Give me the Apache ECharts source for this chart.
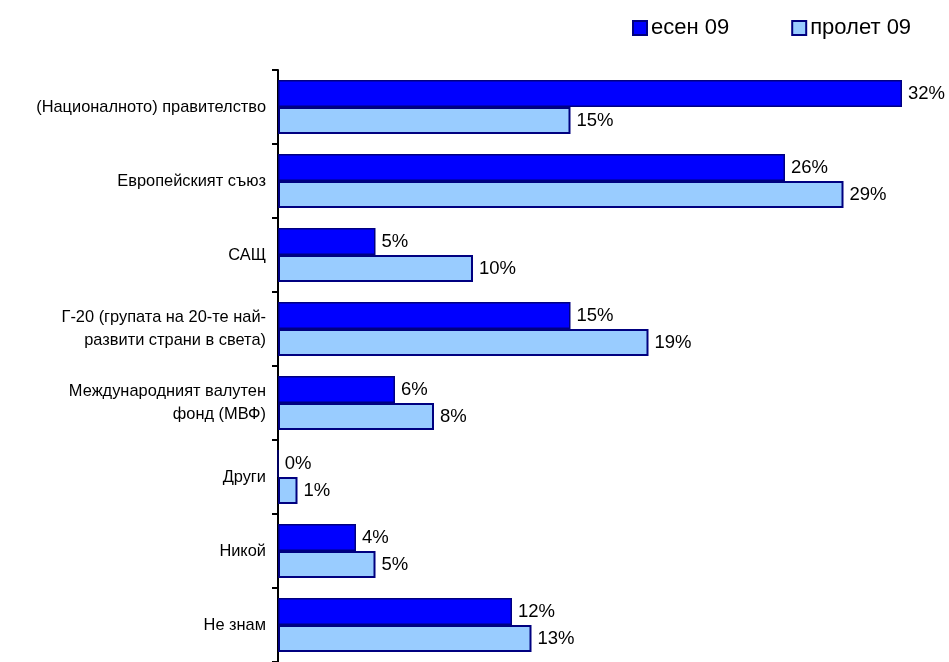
<!DOCTYPE html>
<html><head><meta charset="utf-8">
<script src="https://cdn.jsdelivr.net/npm/echarts@6/dist/echarts.min.js"></script>
<style>html,body{margin:0;padding:0;background:#fff}#c{width:949px;height:662px}</style>
</head><body><div id="c"></div>
<script>
const categories = [
  "(Националното) правителство",
  "Европейският съюз",
  "САЩ",
  "Г-20 (групата на 20-те най-\nразвити страни в света)",
  "Международният валутен\nфонд (МВФ)",
  "Други",
  "Никой",
  "Не знам"
];
const autumn09 = [32, 26, 5, 15, 6, 0, 4, 12];
const spring09 = [15, 29, 10, 19, 8, 1, 5, 13];
const seriesNames = ["есен 09", "пролет 09"];

const chart = echarts.init(document.getElementById('c'), null, {renderer: 'canvas'});
const font = "Arial, 'Liberation Sans', sans-serif";
const lbl = {show: true, position: 'right', distance: 6, formatter: '{c}%', color: '#000', fontSize: 18.5, fontFamily: font};
chart.setOption({
  animation: false,
  legend: {
    orient: 'horizontal', top: 12, left: 627, itemGap: 62, itemWidth: 14, itemHeight: 14,
    icon: 'rect',
    textStyle: {fontSize: 22, fontFamily: font, color: '#000', padding: [0,0,0,-1]},
    data: seriesNames
  },
  grid: {left: 278, top: 70, width: 643.5, height: 596, containLabel: false},
  xAxis: {type: 'value', min: 0, max: 33, show: false},
  yAxis: {
    type: 'category', data: categories, inverse: true,
    axisLine: {lineStyle: {color: '#000', width: 2}},
    axisTick: {show: true, length: 6, lineStyle: {color: '#000', width: 2}},
    axisLabel: {fontSize: 16.4, fontFamily: font, color: '#000', margin: 12, lineHeight: 23, align: 'right'}
  },
  series: [
    {name: seriesNames[0], type: 'bar', data: autumn09, barGap: '0%', barCategoryGap: '27%',
     itemStyle: {color: '#0000FF', borderColor: '#000080', borderWidth: 1.5}, label: lbl},
    {name: seriesNames[1], type: 'bar', data: spring09, barGap: '0%', barCategoryGap: '27%',
     itemStyle: {color: '#99CCFF', borderColor: '#000080', borderWidth: 2}, label: lbl}
  ]
});
</script></body></html>
